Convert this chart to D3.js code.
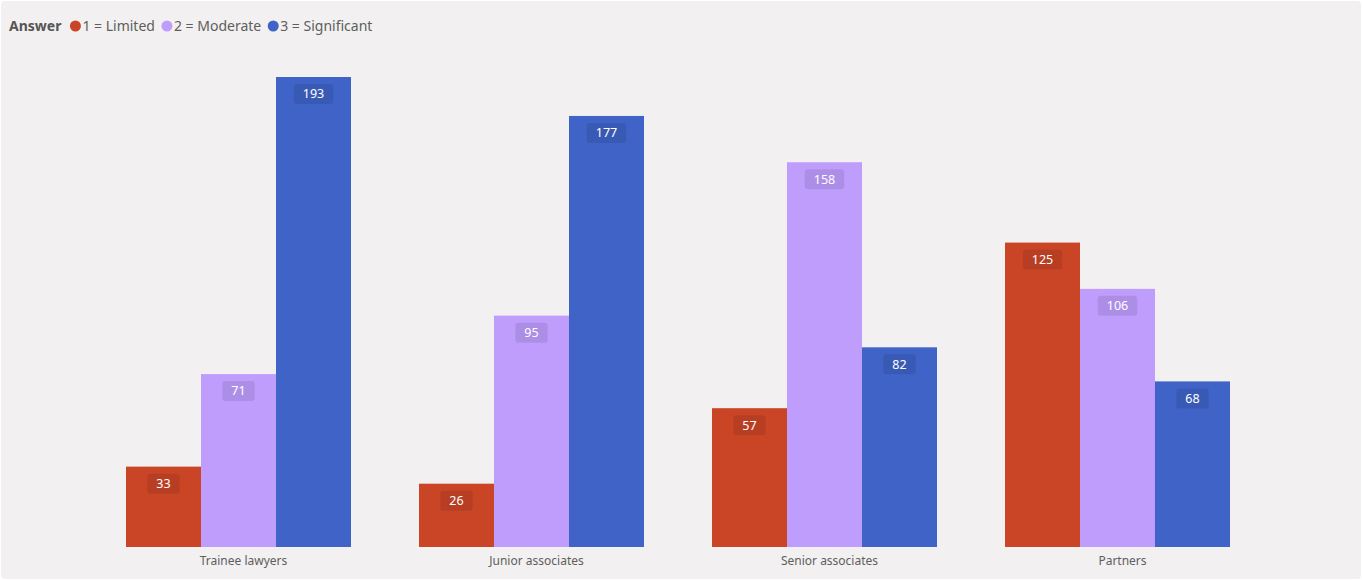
<!DOCTYPE html>
<html>
<head>
<meta charset="utf-8">
<script src="https://cdn.jsdelivr.net/npm/d3@7/dist/d3.min.js"></script>
<style>
  html, body { margin: 0; padding: 0; background: #ffffff; }
  svg { display: block; }
</style>
</head>
<body>
<svg id="chart" width="1362" height="580"></svg>
<script>
// Survey answers per career level
const categories = ["Trainee lawyers", "Junior associates", "Senior associates", "Partners"];
const answers = ["1 = Limited", "2 = Moderate", "3 = Significant"];
const limited = [33, 26, 57, 125];
const moderate = [71, 95, 158, 106];
const significant = [193, 177, 82, 68];
const legendTitle = "Answer";

const seriesValues = [limited, moderate, significant];
const colors = ["#ca4526", "#bf9dfd", "#3f63c6"];

const svg = d3.select("#chart");
const W = 1362, H = 580;
const font = "'Noto Sans', 'Open Sans', sans-serif";

// card background
svg.append("rect")
  .attr("x", 1).attr("y", 1)
  .attr("width", W - 2).attr("height", H - 2)
  .attr("rx", 4)
  .attr("fill", "#f2f0f1");

const baseline = 547;
const inner = 68 / 293;
const x0 = d3.scaleBand()
  .domain(categories)
  .range([92, 1264])
  .paddingInner(inner)
  .paddingOuter(inner / 2);

const x1 = d3.scaleBand()
  .domain(d3.range(answers.length))
  .range([0, x0.bandwidth()]);

const y = d3.scaleLinear()
  .domain([0, 193])
  .range([baseline, 77]);

const rows = categories.map((c, i) => ({
  cat: c,
  vals: seriesValues.map((s, k) => ({ k, v: s[i] }))
}));

const groups = svg.append("g").selectAll("g")
  .data(rows).join("g")
  .attr("transform", d => `translate(${x0(d.cat)},0)`);

groups.selectAll("rect.bar")
  .data(d => d.vals).join("rect")
  .attr("class", "bar")
  .attr("x", d => x1(d.k))
  .attr("y", d => y(d.v))
  .attr("width", x1.bandwidth())
  .attr("height", d => baseline - y(d.v))
  .attr("fill", d => colors[d.k]);

// value labels inside the top of each bar
const lbl = groups.selectAll("g.lbl")
  .data(d => d.vals).join("g")
  .attr("class", "lbl")
  .attr("transform", d => `translate(${x1(d.k) + x1.bandwidth() / 2},${y(d.v) + 17})`);

lbl.append("text")
  .attr("text-anchor", "middle")
  .attr("dy", "0.35em")
  .attr("font-family", font)
  .attr("font-size", 12.5)
  .attr("fill", "#ffffff")
  .text(d => d.v)
  .each(function () {
    const b = this.getBBox();
    d3.select(this.parentNode).insert("rect", "text")
      .attr("x", -b.width / 2 - 9)
      .attr("y", -10)
      .attr("width", b.width + 18)
      .attr("height", 20)
      .attr("rx", 3)
      .attr("fill", "rgba(0,0,0,0.09)");
  });

// category axis labels
svg.append("g").selectAll("text")
  .data(categories).join("text")
  .attr("x", d => x0(d) + x0.bandwidth() / 2 + 5)
  .attr("y", 565)
  .attr("text-anchor", "middle")
  .attr("font-family", font)
  .attr("font-size", 12)
  .attr("fill", "#605e5c")
  .text(d => d);

// legend
const lg = svg.append("g").attr("transform", "translate(9,26)");
const title = lg.append("text")
  .attr("x", 0).attr("dy", "0.35em")
  .attr("font-family", font)
  .attr("font-size", 14)
  .attr("font-weight", "bold")
  .attr("fill", "#555")
  .text(legendTitle);
let cx = title.node().getComputedTextLength() + 14;
answers.forEach((a, i) => {
  lg.append("circle")
    .attr("cx", cx).attr("cy", 0).attr("r", 5.5)
    .attr("fill", colors[i]);
  const t = lg.append("text")
    .attr("x", cx + 7).attr("dy", "0.35em")
    .attr("font-family", font)
    .attr("font-size", 14)
    .attr("fill", "#605e5c")
    .text(a);
  cx += 7 + t.node().getComputedTextLength() + 12;
});
</script>
</body>
</html>
